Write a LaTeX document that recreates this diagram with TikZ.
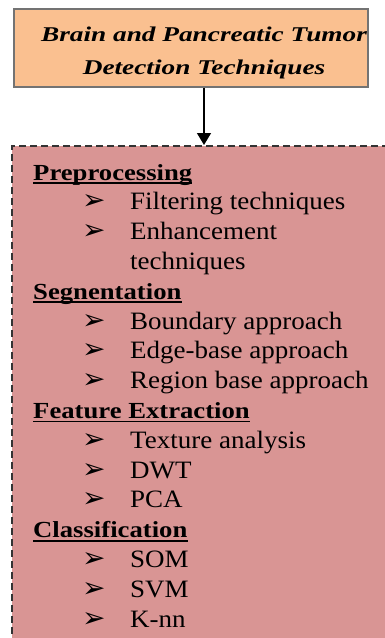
\documentclass[tikz,border=0pt]{standalone}
\usepackage{fontspec}
\setmainfont{Liberation Serif}
\newfontfamily\titlefont[FakeStretch=1.3]{Liberation Serif}
\newfontfamily\headfont[FakeStretch=1.16]{Liberation Serif}
\newfontfamily\itemfont[FakeStretch=1.08]{Liberation Serif}
\newfontfamily\arrowfont{DejaVu Sans}
\usetikzlibrary{arrows.meta,positioning}
\definecolor{titleorange}{HTML}{FAC090}
\definecolor{methodred}{HTML}{D99594}
\tikzset{titlebox/.style={
            draw=black!55,
            fill=titleorange,
            line width=1.5pt,
            inner sep=0pt,
            minimum width=354pt,
            minimum height=78pt
        },
        titletext/.style={
            align=center,
            inner sep=0pt,
            font=\titlefont\bfseries\itshape\fontsize{21}{33}\selectfont
        },
        methodbox/.style={
            draw=black!80,
            dash pattern=on 7pt off 4pt,
            fill=methodred,
            line width=2.2pt,
            inner sep=0pt,
            minimum width=390pt,
            minimum height=510pt
        },
        heading/.style={
            anchor=base west,
            inner sep=0pt,
            font=\headfont\bfseries\fontsize{23}{27}\selectfont
        },
        item/.style={
            anchor=base west,
            inner sep=0pt,
            font=\itemfont\fontsize{25}{30}\selectfont
        },
        bullet/.style={
            anchor=base west,
            inner sep=0pt,
            font=\arrowfont\fontsize{28}{30}\selectfont
        },
        uline/.style={
            line width=1.8pt
        },
        link/.style={
            -{Triangle[length=12pt,width=14pt]},
            line width=1.5pt
        }
    }
\begin{document}
\begin{tikzpicture}[x=1pt,y=-1pt]
        \useasboundingbox (0,0) rectangle (385,638);
        \clip (0,0) rectangle (385,638);
        \node[titlebox] at (191,48) (titlebg) {};
        \node[titletext] at (204,52.7) (title) {Brain and Pancreatic Tumor\\Detection Techniques};
        \node[methodbox,anchor=north west] at (11,145) (methods) {};
        \draw[link] (title.south |- titlebg.south) -- (title.south |- methods.north);

        \node[heading] at (33,180) (pre) {Preprocessing};
        \node[bullet] at (82,209.8) (b1) {➢};
        \node[item] at (130,209.8) (filt) {Filtering techniques};
        \node[bullet] at (82,239.6) (b2) {➢};
        \node[item] at (130,239.6) (enh) {Enhancement};
        \node[item] at (130,269.4) (enh2) {techniques};

        \node[heading] at (33,299.2) (seg) {Segnentation};
        \node[bullet] at (82,329) (b3) {➢};
        \node[item] at (130,329) (bound) {Boundary approach};
        \node[bullet] at (82,358.8) (b4) {➢};
        \node[item] at (130,358.8) (edge) {Edge-base approach};
        \node[bullet] at (82,388.6) (b5) {➢};
        \node[item] at (130,388.6) (region) {Region base approach};

        \node[heading] at (33,418.4) (feat) {Feature Extraction};
        \node[bullet] at (82,448.2) (b6) {➢};
        \node[item] at (130,448.2) (tex) {Texture analysis};
        \node[bullet] at (82,478) (b7) {➢};
        \node[item] at (130,478) (dwt) {DWT};
        \node[bullet] at (82,507.8) (b8) {➢};
        \node[item] at (130,507.8) (pca) {PCA};

        \node[heading] at (33,537.6) (cls) {Classification};
        \node[bullet] at (82,567.4) (b9) {➢};
        \node[item] at (130,567.4) (som) {SOM};
        \node[bullet] at (82,597.2) (b10) {➢};
        \node[item] at (130,597.2) (svm) {SVM};
        \node[bullet] at (82,627) (b11) {➢};
        \node[item] at (130,627) (knn) {K-nn};

        \draw[uline] ([yshift=-3pt]pre.base west) -- ([yshift=-3pt]pre.base east);
        \draw[uline] ([yshift=-3pt]seg.base west) -- ([yshift=-3pt]seg.base east);
        \draw[uline] ([yshift=-3pt]feat.base west) -- ([yshift=-3pt]feat.base east);
        \draw[uline] ([yshift=-3pt]cls.base west) -- ([yshift=-3pt]cls.base east);
    \end{tikzpicture}
\end{document}
